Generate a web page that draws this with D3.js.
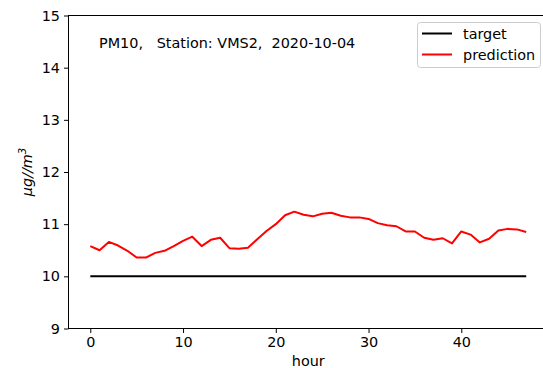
<!DOCTYPE html>
<html><head><meta charset="utf-8">
<script src="https://cdn.jsdelivr.net/npm/d3@7"></script>
<style>body{margin:0;background:#fff}svg{display:block}text{font-family:"DejaVu Sans",sans-serif}</style>
</head><body>
<svg id="c" width="543" height="368"></svg>
<script>
const hours = d3.range(0, 48);
const target = hours.map(() => 10);
const prediction = [10.58,10.50,10.66,10.59,10.49,10.36,10.36,10.45,10.49,10.58,
  10.68,10.76,10.58,10.70,10.74,10.54,10.53,10.55,10.71,10.87,
  11.00,11.17,11.24,11.18,11.15,11.20,11.22,11.16,11.13,11.13,
  11.10,11.02,10.98,10.96,10.86,10.86,10.74,10.70,10.73,10.63,
  10.86,10.80,10.65,10.72,10.88,10.91,10.90,10.85];
const xTicks = [0,10,20,30,40];
const yTicks = [9,10,11,12,13,14,15];
const title = "PM10,   Station: VMS2,  2020-10-04";
const FS = 14.4;

const svg = d3.select("#c");
const L = 68.5, R = 548, T = 15.5, B = 328.5;
const x = d3.scaleLinear().domain([-2.35, 49.35]).range([L, R]);
const y = d3.scaleLinear().domain([9, 15]).range([B, T]);

const xa = svg.append("g").attr("transform", `translate(0,${B})`)
  .call(d3.axisBottom(x).tickValues(xTicks).tickFormat(d3.format("d")).tickSize(4.5).tickPadding(4).tickSizeOuter(0));
const ya = svg.append("g").attr("transform", `translate(${L},0)`)
  .call(d3.axisLeft(y).tickValues(yTicks).tickFormat(d3.format("d")).tickSize(4.5).tickPadding(4).tickSizeOuter(0));
[xa, ya].forEach(a => {
  a.selectAll("text").attr("font-size", FS).attr("fill", "#000").attr("font-family", "DejaVu Sans");
  a.selectAll("line").attr("stroke", "#000").attr("stroke-width", 1);
  a.select(".domain").remove();
});
svg.append("rect").attr("x", L).attr("y", T).attr("width", R - L).attr("height", B - T)
  .attr("fill", "none").attr("stroke", "#000").attr("stroke-width", 1);

const line = d3.line().x((d, i) => x(hours[i])).y(d => y(d));
svg.append("path").datum(target).attr("d", line).attr("fill", "none").attr("stroke", "#000").attr("stroke-width", 2);
svg.append("path").datum(prediction).attr("d", line).attr("fill", "none").attr("stroke", "#ff0000").attr("stroke-width", 2).attr("stroke-linejoin", "round");

svg.append("text").attr("x", 99).attr("y", 47.5).attr("font-size", FS).attr("fill", "#000")
  .attr("xml:space", "preserve").style("white-space", "pre").text(title);

const lg = svg.append("g");
lg.append("rect").attr("x", 417.5).attr("y", 22.5).attr("width", 123).attr("height", 45).attr("rx", 3)
  .attr("fill", "#fff").attr("fill-opacity", 0.8).attr("stroke", "#ccc").attr("stroke-width", 1);
const items = [["target", "#000"], ["prediction", "#ff0000"]];
items.forEach((it, i) => {
  const yy = 33.5 + i * 21;
  lg.append("line").attr("x1", 422).attr("x2", 452).attr("y1", yy).attr("y2", yy).attr("stroke", it[1]).attr("stroke-width", 2);
  lg.append("text").attr("x", 463).attr("y", yy + 5).attr("font-size", FS).attr("fill", "#000").text(it[0]);
});

svg.append("text").attr("x", (L + R) / 2).attr("y", 366).attr("text-anchor", "middle").attr("font-size", FS).attr("fill", "#000").text("hour");
const yl = svg.append("text").attr("transform", `translate(32,${(T + B) / 2}) rotate(-90)`)
  .attr("text-anchor", "middle").attr("font-size", FS).attr("font-style", "italic").attr("fill", "#000");
yl.append("tspan").text("μg//m");
yl.append("tspan").attr("dy", -6).attr("font-size", 10).text("3");
</script>
</body></html>
